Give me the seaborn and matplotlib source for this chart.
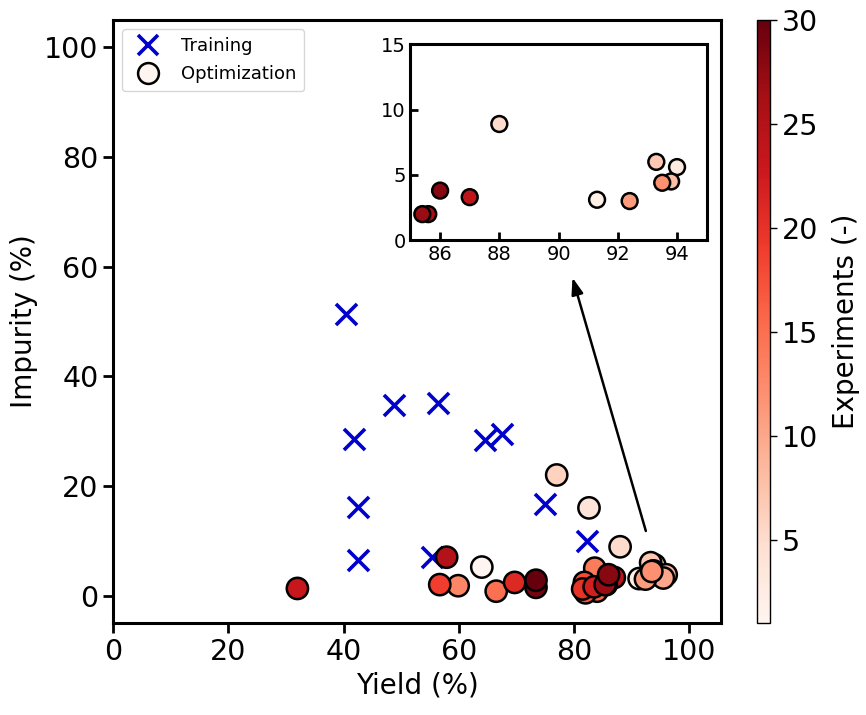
import matplotlib
matplotlib.use("Agg")
import matplotlib.pyplot as plt
import seaborn as sns
import numpy as np
import pandas as pd
from matplotlib.lines import Line2D
from matplotlib.colors import Normalize
from matplotlib.cm import ScalarMappable

# Training experiments
train_yield = [40.5, 48.8, 56.4, 41.8, 64.6, 67.5, 42.5, 42.5, 55.3, 74.9, 82.2]
train_impurity = [51.3, 34.7, 35.1, 28.5, 28.4, 29.5, 16.2, 6.4, 7.1, 16.7, 10.0]

# Optimization experiments (yield, impurity, experiment number)
opt_yield = [64.0, 91.3, 94.0, 82.6, 88.0, 77.0, 93.3, 93.8, 96.0, 95.5,
             92.4, 93.5, 59.9, 83.6, 66.5, 84.0, 82.0, 81.8, 56.7, 81.5,
             69.7, 83.5, 32.0, 87.0, 57.9, 85.6, 85.4, 86.0, 73.4, 73.4]
opt_impurity = [5.2, 3.1, 5.6, 16.0, 8.9, 22.0, 6.0, 4.5, 3.8, 3.2,
                3.0, 4.4, 1.8, 5.0, 0.8, 0.8, 0.5, 2.4, 2.0, 1.2,
                2.4, 1.6, 1.3, 3.3, 7.0, 2.0, 2.0, 3.8, 1.5, 2.8]
opt_exp = list(range(1, 31))

cbar_ticks = [5, 10, 15, 20, 25, 30]

sns.set_style("ticks")
plt.rcParams['font.family'] = ['DejaVu Sans']
for k in ['text.color', 'axes.labelcolor', 'xtick.color', 'ytick.color', 'axes.edgecolor']:
    plt.rcParams[k] = 'black'

df_opt = pd.DataFrame({"Yield": opt_yield, "Impurity": opt_impurity, "Exp": opt_exp})
df_tr = pd.DataFrame({"Yield": train_yield, "Impurity": train_impurity})

fig = plt.figure(figsize=(8.66, 7.15), dpi=100)
ax = fig.add_axes([0.1305, 0.1287, 0.702, 0.8433])
norm = Normalize(vmin=1, vmax=30)
cmap = plt.get_cmap("Reds")

sns.scatterplot(data=df_tr, x="Yield", y="Impurity", marker="x", color="#0000cd",
                s=230, linewidth=2.6, ax=ax, legend=False, zorder=2)
sns.scatterplot(data=df_opt, x="Yield", y="Impurity", hue="Exp", palette="Reds",
                hue_norm=norm, s=235, edgecolor="black", linewidth=1.8,
                ax=ax, legend=False, zorder=3)

ax.set_xlim(0, 105.5)
ax.set_ylim(-5, 105)
ax.set_xticks([0, 20, 40, 60, 80, 100])
ax.set_yticks([0, 20, 40, 60, 80, 100])
ax.set_xlabel("Yield (%)", fontsize=20)
ax.set_ylabel("Impurity (%)", fontsize=20)
ax.tick_params(axis="both", labelsize=20.5, width=2, length=7, direction="out")
for sp in ax.spines.values():
    sp.set_linewidth(2.2)
    sp.set_visible(True)

handles = [
    Line2D([], [], marker="x", color="#0000cd", linestyle="none", markersize=15,
           markeredgewidth=2.6, label="Training"),
    Line2D([], [], marker="o", markerfacecolor=cmap(norm(1)), markeredgecolor="black",
           linestyle="none", markersize=15, markeredgewidth=1.8, label="Optimization"),
]
ax.legend(handles=handles, loc="upper left", fontsize=13, handletextpad=0.8,
          borderpad=0.45, labelspacing=0.55, borderaxespad=0.5, frameon=True)

ax.annotate("", xy=(79.6, 58.5), xytext=(92.6, 11.3),
            arrowprops=dict(arrowstyle="-|>,head_width=0.35,head_length=1.0",
                            color="black", lw=1.8))

# Inset
axin = fig.add_axes([0.474, 0.664, 0.342, 0.274])
sns.scatterplot(data=df_opt, x="Yield", y="Impurity", hue="Exp", palette="Reds",
                hue_norm=norm, s=130, edgecolor="black", linewidth=1.8,
                ax=axin, legend=False, zorder=3)
axin.set_xlim(85, 95)
axin.set_ylim(0, 15)
axin.set_xticks([86, 88, 90, 92, 94])
axin.set_yticks([0, 5, 10, 15])
axin.set_xlabel("")
axin.set_ylabel("")
axin.tick_params(axis="both", labelsize=14, width=2, length=6, direction="in")
for sp in axin.spines.values():
    sp.set_linewidth(2.2)

# Colorbar
cax = fig.add_axes([0.874, 0.1287, 0.015, 0.8433])
sm = ScalarMappable(norm=norm, cmap=cmap)
cb = fig.colorbar(sm, cax=cax, ticks=cbar_ticks)
cb.ax.tick_params(labelsize=20.5, width=1, length=5)
cb.set_label("Experiments (-)", fontsize=20, labelpad=10)
cb.outline.set_linewidth(1)

fig.savefig("out.png", dpi=100)
